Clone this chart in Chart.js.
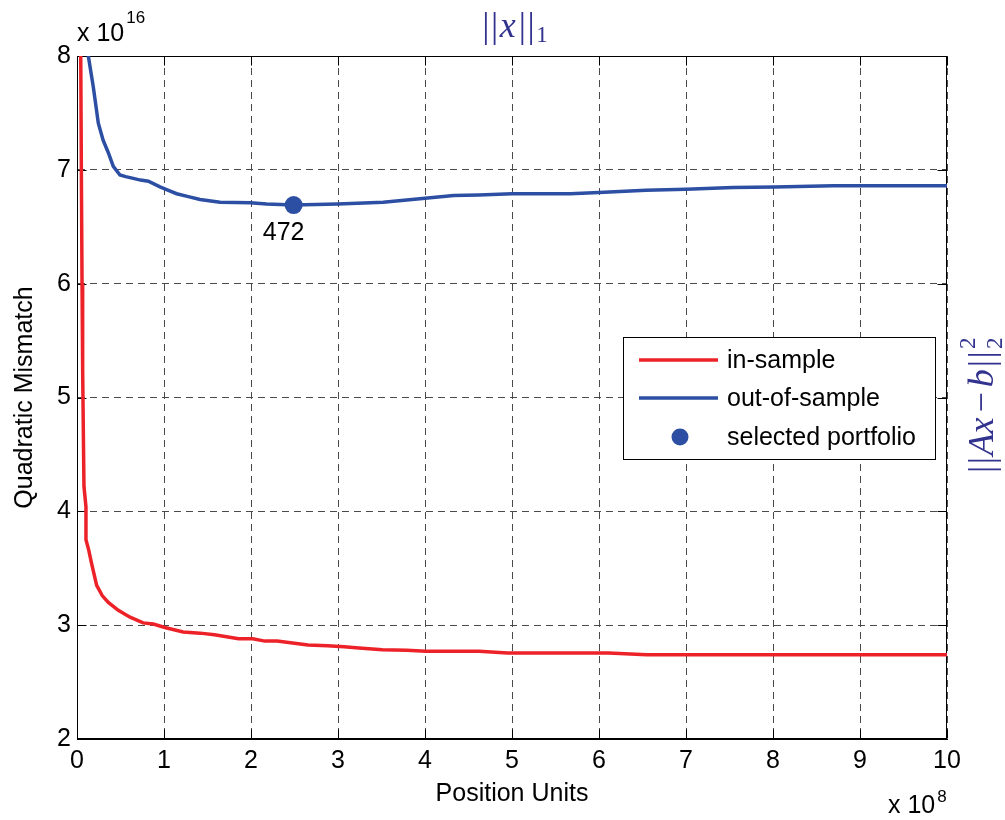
<!DOCTYPE html>
<html>
<head>
<meta charset="utf-8">
<script src="https://cdn.jsdelivr.net/npm/chart.js@4.4.1/dist/chart.umd.min.js"></script>
<style>
  html, body { margin: 0; padding: 0; background: #fff; }
  #wrap { width: 1005px; height: 820px; }
  canvas { display: block; }
</style>
</head>
<body>
<div id="wrap"><canvas id="c" width="1005" height="820"></canvas></div>
<script>
// ---- data (x in 1e8 position units, y in 1e16 quadratic mismatch) ----
const inSampleX  = [0.043,0.05,0.058,0.065,0.08,0.103,0.103,0.135,0.168,0.226,0.29,0.36,0.475,0.61,0.76,0.877,1.01,1.22,1.414,1.58,1.857,2.02,2.16,2.30,2.655,2.88,3.07,3.24,3.51,3.79,4.01,4.62,4.95,6.11,6.55,10];
const inSampleY  = [8.0,7.0,6.0,5.24,4.22,4.04,3.75,3.66,3.54,3.35,3.26,3.20,3.13,3.07,3.02,3.01,2.98,2.94,2.93,2.915,2.88,2.88,2.86,2.86,2.826,2.82,2.81,2.80,2.785,2.78,2.77,2.77,2.755,2.755,2.74,2.74];
const outSampleX = [0.13,0.187,0.245,0.30,0.36,0.417,0.494,0.56,0.647,0.73,0.82,0.954,1.05,1.146,1.28,1.414,1.644,1.99,2.18,2.49,3.0,3.52,4.0,4.33,4.62,5.0,5.67,6.0,6.54,7.0,7.54,8.02,8.69,10];
const outSampleY = [8.0,7.73,7.41,7.26,7.15,7.03,6.955,6.94,6.925,6.91,6.90,6.85,6.82,6.79,6.765,6.74,6.715,6.71,6.70,6.69,6.70,6.715,6.75,6.775,6.78,6.79,6.79,6.80,6.82,6.83,6.845,6.85,6.86,6.86];
const selectedX = [2.49];
const selectedY = [6.69];
const selectedLabel = ['472'];
const seriesNames = ['in-sample', 'out-of-sample', 'selected portfolio'];
const xTickValues = [0,1,2,3,4,5,6,7,8,9,10];
const yTickValues = [2,3,4,5,6,7,8];

const RED = '#ed2228';
const BLUE = '#2c4fa3';
const MATH = '#32328f';
const FONT = '"Liberation Sans", Arial, Helvetica, sans-serif';
const SERIF = '"Liberation Serif", "DejaVu Serif", "Times New Roman", serif';

const toPts = (xs, ys) => xs.map((v, i) => ({x: v, y: ys[i]}));

function drawParts(ctx, parts, x0, y0) {
  let x = x0;
  parts.forEach(p => {
    ctx.font = p[1];
    ctx.fillText(p[0], x, y0 + (p[2] || 0));
    x += ctx.measureText(p[0]).width + (p[3] || 0);
  });
  return x;
}
function partsWidth(ctx, parts) {
  let w = 0;
  parts.forEach(p => { ctx.font = p[1]; w += ctx.measureText(p[0]).width + (p[3] || 0); });
  return w;
}

const decor = {
  id: 'decor',
  beforeDatasetsDraw(chart) {
    const {ctx, chartArea: a, scales: {x, y}} = chart;
    ctx.save();
    ctx.strokeStyle = '#000';
    ctx.lineWidth = 1;
    ctx.setLineDash([]);
    const L = Math.round(a.left) + 0.5, R = Math.round(a.right) - 0.5;
    const T = Math.round(a.top) + 0.5, B = Math.round(a.bottom) - 0.5;
    ctx.strokeRect(L, T, R - L, B - T);
    ctx.beginPath();
    const tl = 9;
    xTickValues.forEach(v => {
      const p = Math.round(x.getPixelForValue(v)) + 0.5;
      ctx.moveTo(p, B); ctx.lineTo(p, B - tl);
      ctx.moveTo(p, T); ctx.lineTo(p, T + tl);
    });
    yTickValues.forEach(v => {
      const p = Math.round(y.getPixelForValue(v)) + 0.5;
      ctx.moveTo(L, p); ctx.lineTo(L + tl, p);
      ctx.moveTo(R, p); ctx.lineTo(R - tl, p);
    });
    ctx.stroke();
    ctx.restore();
  },
  afterDatasetsDraw(chart) {
    const {ctx} = chart;
    ctx.save();
    // point label
    const meta = chart.getDatasetMeta(2);
    const pt = meta.data[0];
    ctx.fillStyle = '#000';
    ctx.font = '25px ' + FONT;
    ctx.textAlign = 'center';
    ctx.textBaseline = 'middle';
    ctx.fillText(selectedLabel[0], pt.x - 10, pt.y + 28);

    // exponent labels
    ctx.textAlign = 'left';
    ctx.textBaseline = 'alphabetic';
    ctx.font = '25px ' + FONT;
    ctx.fillText('x 10', 77, 41);
    let w = ctx.measureText('x 10').width;
    ctx.font = '17px ' + FONT;
    ctx.fillText('16', 77 + w + 2, 23);
    ctx.font = '25px ' + FONT;
    ctx.fillText('x 10', 888, 813);
    w = ctx.measureText('x 10').width;
    ctx.font = '17px ' + FONT;
    ctx.fillText('8', 888 + w + 2, 802);

    // legend
    const lx = 623.5, ly = 337.5, lw = 312, lh = 122;
    ctx.fillStyle = '#fff';
    ctx.fillRect(lx, ly, lw, lh);
    ctx.strokeStyle = '#000';
    ctx.lineWidth = 1;
    ctx.strokeRect(lx, ly, lw, lh);
    const rows = [360, 398, 437];
    const ds = chart.data.datasets;
    ctx.font = '25px ' + FONT;
    ctx.textBaseline = 'middle';
    ctx.textAlign = 'left';
    for (let i = 0; i < 3; i++) {
      const yy = rows[i];
      if (i < 2) {
        ctx.strokeStyle = ds[i].borderColor;
        ctx.lineWidth = 3.5;
        ctx.beginPath();
        ctx.moveTo(639, yy); ctx.lineTo(718, yy);
        ctx.stroke();
      } else {
        ctx.fillStyle = ds[i].backgroundColor;
        ctx.beginPath();
        ctx.arc(680, yy, 8.5, 0, Math.PI * 2);
        ctx.fill();
      }
      ctx.fillStyle = '#000';
      ctx.fillText(seriesNames[i], 727, yy + 1);
    }

    // top math title ||x||_1
    ctx.fillStyle = MATH;
    ctx.textBaseline = 'alphabetic';
    const bigR = '36px ' + SERIF, bigI = 'italic 36px ' + SERIF, small = '23px ' + SERIF;
    const bar = ['|', bigR, 0, 1.5];
    const tparts = [bar, bar, ['x', bigI, 0, 3], bar, bar, ['1', small, 5, 0]];
    const tw = partsWidth(ctx, tparts);
    drawParts(ctx, tparts, 515 - tw / 2, 37);

    // right math label ||Ax - b||_2^2 (rotated, reading upward)
    ctx.translate(993, 473);
    ctx.rotate(-Math.PI / 2);
    const rparts = [bar, bar, ['A', bigI, 0, 0], ['x', bigI, 0, 5], ['\u2212', bigR, 0, 5],
                    ['b', bigI, 0, 2], bar, bar];
    const endX = drawParts(ctx, rparts, 0, 0);
    ctx.font = small;
    ctx.fillText('2', endX + 1, -18);
    ctx.fillText('2', endX + 1, 9);
    ctx.restore();
  }
};

const axisFont = {family: FONT, size: 25};

new Chart(document.getElementById('c'), {
  type: 'line',
  data: {
    datasets: [
      {label: seriesNames[0], data: toPts(inSampleX, inSampleY), borderColor: RED, backgroundColor: RED,
       borderWidth: 3.5, pointRadius: 0, tension: 0, fill: false},
      {label: seriesNames[1], data: toPts(outSampleX, outSampleY), borderColor: BLUE, backgroundColor: BLUE,
       borderWidth: 3.5, pointRadius: 0, tension: 0, fill: false},
      {label: seriesNames[2], data: toPts(selectedX, selectedY), showLine: false, borderColor: BLUE,
       backgroundColor: BLUE, pointRadius: 9, pointBorderWidth: 0, pointStyle: 'circle'}
    ]
  },
  options: {
    responsive: false,
    animation: false,
    devicePixelRatio: 1,
    layout: {padding: {top: 56, right: 58, left: 0, bottom: 0}},
    plugins: {legend: {display: false}, tooltip: {enabled: false}},
    events: [],
    scales: {
      x: {
        type: 'linear', min: 0, max: 10,
        afterBuildTicks: s => { s.ticks = xTickValues.map(v => ({value: v})); },
        afterFit: s => { s.height = 81; },
        ticks: {font: axisFont, color: '#000', padding: 7, maxRotation: 0, autoSkip: false},
        grid: {color: '#4a4a4a', lineWidth: 1, drawTicks: false},
        border: {display: true, color: '#000', width: 1, dash: [7, 5]},
        title: {display: true, text: 'Position Units', font: axisFont, color: '#000', padding: {top: 0, bottom: 11}}
      },
      y: {
        type: 'linear', min: 2, max: 8,
        afterBuildTicks: s => { s.ticks = yTickValues.map(v => ({value: v})); },
        afterFit: s => { s.width = 77; },
        ticks: {font: axisFont, color: '#000', padding: 6, autoSkip: false},
        grid: {color: '#4a4a4a', lineWidth: 1, drawTicks: false},
        border: {display: true, color: '#000', width: 1, dash: [7, 5]},
        title: {display: true, text: 'Quadratic Mismatch', font: axisFont, color: '#000', padding: {top: 10, bottom: 0}}
      }
    }
  },
  plugins: [decor]
});
</script>
</body>
</html>
